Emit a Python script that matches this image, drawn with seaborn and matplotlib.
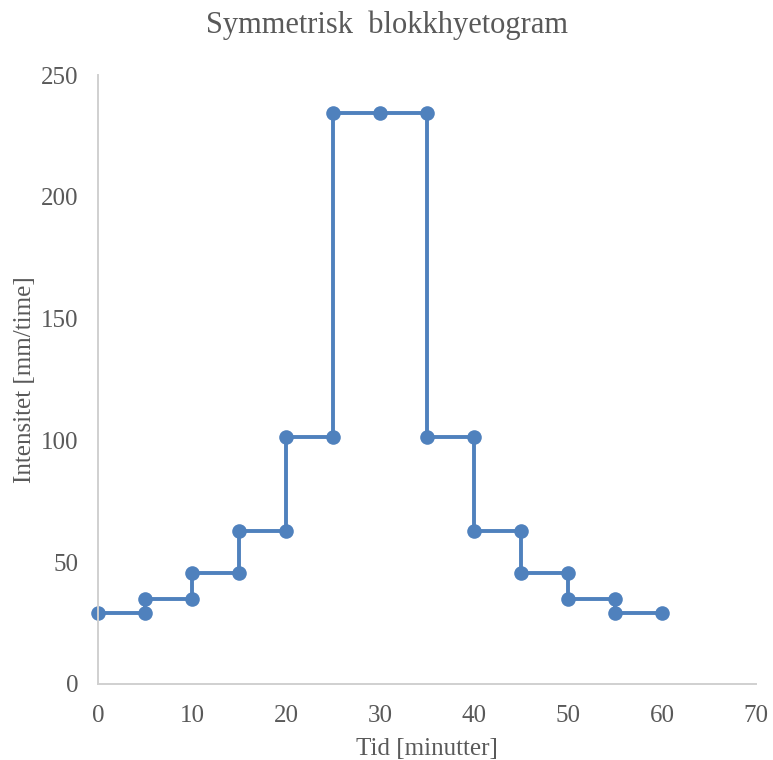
import matplotlib
matplotlib.use("Agg")
import matplotlib.pyplot as plt
import seaborn as sns
import pandas as pd

# Symmetric block hyetograph: step corners (time in minutes, intensity in mm/h)
tid = [0, 5, 5, 10, 10, 15, 15, 20, 20, 25, 25, 30,
       35, 35, 40, 40, 45, 45, 50, 50, 55, 55, 60]
intensitet = [29.0, 29.0, 34.8, 34.8, 45.4, 45.4, 62.7, 62.7, 101.4, 101.4, 234.3, 234.3,
              234.3, 101.4, 101.4, 62.7, 62.7, 45.4, 45.4, 34.8, 34.8, 29.0, 29.0]
x_ticks = [0, 10, 20, 30, 40, 50, 60, 70]
y_ticks = [0, 50, 100, 150, 200, 250]

df = pd.DataFrame({"Tid": tid, "Intensitet": intensitet})

sns.set_theme(style="white")
plt.rcParams["font.family"] = ["Liberation Serif", "DejaVu Serif"]
text_color = "#595959"
axis_color = "#D0D0D0"
blue = "#4F81BD"

fig = plt.figure(figsize=(7.73, 7.60), dpi=100)
ax = fig.add_axes([0.1268, 0.1, 0.9781 - 0.1268, 0.9013 - 0.1])

sns.lineplot(data=df, x="Tid", y="Intensitet", ax=ax, estimator=None, sort=False,
             color=blue, linewidth=2.8, marker="o", markersize=10.5,
             markeredgewidth=0, clip_on=False)

ax.set_xlim(0, 70)
ax.set_ylim(0, 250)
ax.set_xticks(x_ticks)
ax.set_yticks(y_ticks)
ax.tick_params(axis="both", length=0, labelsize=18, colors=text_color)
ax.tick_params(axis="x", pad=15)
ax.tick_params(axis="y", pad=14)

for side in ("top", "right"):
    ax.spines[side].set_visible(False)
for side in ("left", "bottom"):
    ax.spines[side].set_color(axis_color)
    ax.spines[side].set_linewidth(1.4)

ax.set_xlabel("Tid [minutter]", fontsize=18, color=text_color, labelpad=8)
ax.set_ylabel("Intensitet [mm/time]", fontsize=18, color=text_color, labelpad=4)
fig.suptitle("Symmetrisk  blokkhyetogram", fontsize=22, color=text_color,
             x=0.5, y=0.967, va="center")

fig.savefig("out.png", dpi=100)
